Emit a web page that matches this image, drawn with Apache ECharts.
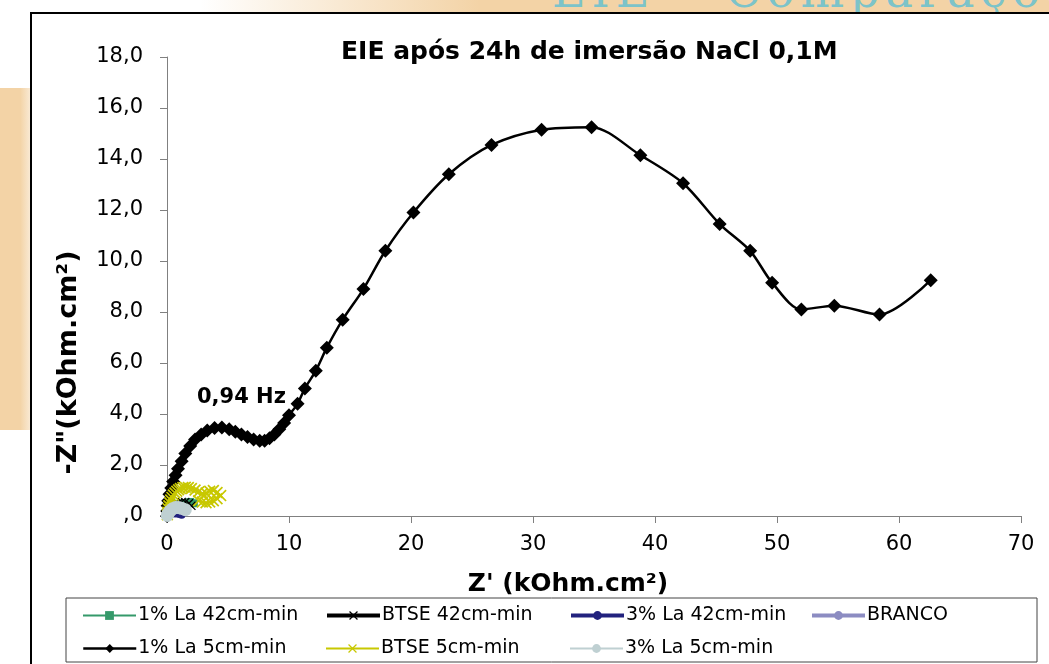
<!DOCTYPE html>
<html>
<head>
<meta charset="utf-8">
<script src="https://cdn.jsdelivr.net/npm/echarts@6/dist/echarts.min.js"></script>
<style>
    html, body { margin: 0; padding: 0; background: #fff; overflow: hidden; }
    #deco_top { position: absolute; left: 0; top: 0; width: 1049px; height: 14px;
        background: linear-gradient(to right, rgba(243,213,168,0) 200px, #f3d3a6 480px, #f3d3a6 1049px); }
    #deco_title { position: absolute; left: 552px; top: -36px; font-family: "DejaVu Serif", serif;
        font-size: 46px; color: #7cc3c9; white-space: nowrap; letter-spacing: 6px; }
    #deco_left { position: absolute; left: 0; top: 88px; width: 32px; height: 342px;
        background: linear-gradient(to right, #f3d3a6 0px, #f3d3a6 20px, rgba(243,211,166,0.4) 32px); }
    #frame { position: absolute; left: 30px; top: 12px; width: 1040px; height: 670px;
        border-left: 2px solid #000; border-top: 2px solid #000; background: #fff; }
    #echarts { position: absolute; left: 0; top: 0; width: 1049px; height: 664px; }
</style>
</head>
<body>
<div id="deco_top"></div>
<div id="deco_title">EIE – Comparações</div>
<div id="deco_left"></div>
<div id="frame"></div>
<div id="echarts"></div>
<script>
// dados (Z' e -Z'' em kOhm.cm2)
var la1_5_x = [0.0, 0.02, 0.05, 0.1, 0.2, 0.35, 0.5, 0.7, 0.9, 1.2, 1.5, 1.9, 2.3, 2.8, 3.3, 3.9, 4.5, 5.1, 5.6, 6.1, 6.6, 7.1,
    7.6, 8.0, 8.4, 8.8, 9.2, 9.6, 10.0, 10.7, 11.3, 12.2, 13.1, 14.4, 16.1, 17.9, 20.2, 23.1, 26.6, 30.7, 34.8, 38.8, 42.3,
    45.3, 47.8, 49.6, 52.0, 54.7, 58.4, 62.6];
var la1_5_y = [0.0, 0.2, 0.4, 0.6, 0.85, 1.1, 1.35, 1.6, 1.85, 2.15, 2.45, 2.75, 3.0, 3.2, 3.35, 3.45, 3.47, 3.4, 3.3, 3.2, 3.1, 3.0,
    2.95, 2.95, 3.05, 3.2, 3.4, 3.65, 3.95, 4.4, 5.0, 5.7, 6.6, 7.7, 8.9, 10.4, 11.9, 13.4, 14.55, 15.15, 15.25, 14.15, 13.05,
    11.45, 10.4, 9.15, 8.1, 8.25, 7.9, 9.25];

var btse5_x = [0.03, 0.06, 0.1, 0.15, 0.22, 0.3, 0.4, 0.52, 0.65, 0.8, 0.95, 1.1, 1.3, 1.5, 1.75, 2.0, 2.3, 2.6, 2.9, 3.2, 3.5,
    3.8, 4.1, 4.4, 4.1, 3.8, 3.5, 3.2, 2.9, 2.6];
var btse5_y = [0.05, 0.15, 0.28, 0.4, 0.52, 0.63, 0.73, 0.82, 0.9, 0.97, 1.03, 1.08, 1.12, 1.13, 1.12, 1.08, 1.02, 0.95, 0.88, 0.9,
    0.97, 1.0, 0.92, 0.8, 0.68, 0.6, 0.55, 0.52, 0.55, 0.6];

var btse42_x = [0.05, 0.15, 0.35, 0.6, 0.9, 1.2, 1.5, 1.8, 2.0];
var btse42_y = [0.05, 0.2, 0.35, 0.45, 0.5, 0.55, 0.55, 0.5, 0.4];

var la1_42_x = [0.05, 0.2, 0.5, 0.9, 1.4, 1.9, 2.2];
var la1_42_y = [0.05, 0.2, 0.35, 0.45, 0.5, 0.55, 0.5];

var la3_42_x = [0.02, 0.1, 0.25, 0.45, 0.7, 1.0, 1.2];
var la3_42_y = [0.02, 0.05, 0.08, 0.1, 0.1, 0.08, 0.05];

var branco_x = [0.01, 0.05, 0.1, 0.2, 0.3];
var branco_y = [0.01, 0.03, 0.05, 0.05, 0.04];

var la3_5_x = [0.02, 0.1, 0.25, 0.45, 0.7, 0.95, 1.2, 1.5];
var la3_5_y = [0.02, 0.1, 0.2, 0.28, 0.33, 0.33, 0.3, 0.25];

var x_ticks = [0, 10, 20, 30, 40, 50, 60, 70];
var y_ticks = [0, 2, 4, 6, 8, 10, 12, 14, 16, 18];

var nomes = ['1% La 42cm-min', 'BTSE 42cm-min', '3% La 42cm-min', 'BRANCO',
    '1% La 5cm-min', 'BTSE 5cm-min', '3% La 5cm-min'];

// junta x e y em pares
function pares(xs, ys) {
    var out = [];
    for (let i = 0; i < xs.length; i++) {
        out.push([xs[i], ys[i]]);
    }
    return out;
}

var simboloX = 'path://M0,1L1,0L5,4L9,0L10,1L6,5L10,9L9,10L5,6L1,10L0,9L4,5Z';
var fonte = '"DejaVu Sans", sans-serif';

function legenda(nome, left, top) {
    return {
        data: [nome],
        left: left,
        top: top,
        itemWidth: 53,
        itemHeight: 11,
        itemGap: 0,
        lineStyle: { width: 'inherit' },
        textStyle: { fontFamily: fonte, fontSize: 19, color: '#000', padding: [0, 0, 0, -3] },
        selectedMode: false
    };
}

var chart = echarts.init(document.getElementById('echarts'));
var option = {
    animation: false,
    textStyle: { fontFamily: fonte },
    title: {
        text: 'EIE após 24h de imersão NaCl 0,1M',
        left: 336,
        top: 35,
        textStyle: { fontFamily: fonte, fontSize: 25, fontWeight: 'bold', color: '#000' }
    },
    grid: { left: 167, right: 28, top: 57, bottom: 148 },
    legend: [
        legenda(nomes[0], 77, 601),
        legenda(nomes[1], 320, 601),
        legenda(nomes[2], 564, 601),
        legenda(nomes[3], 805, 601),
        legenda(nomes[4], 77, 634),
        legenda(nomes[5], 320, 634),
        legenda(nomes[6], 564, 634)
    ],
    graphic: [{
        type: 'rect',
        shape: { x: 66, y: 598, width: 971, height: 64 },
        style: { fill: 'none', stroke: '#444', lineWidth: 1 }
    }],
    xAxis: {
        type: 'value',
        min: x_ticks[0],
        max: x_ticks[x_ticks.length - 1],
        interval: 10,
        name: "Z' (kOhm.cm²)",
        nameLocation: 'middle',
        nameGap: 56,
        nameTextStyle: { fontFamily: fonte, fontSize: 25, fontWeight: 'bold', color: '#000', padding: [0, 52, 0, 0] },
        axisLine: { onZero: false, lineStyle: { color: '#808080', width: 1 } },
        axisTick: { show: true, length: 7, lineStyle: { color: '#808080' } },
        axisLabel: { fontFamily: fonte, fontSize: 21, color: '#000', margin: 18 },
        splitLine: { show: false }
    },
    yAxis: {
        type: 'value',
        min: y_ticks[0],
        max: y_ticks[y_ticks.length - 1],
        interval: 2,
        name: '-Z"(kOhm.cm²)',
        nameLocation: 'middle',
        nameGap: 85,
        nameRotate: 90,
        nameTextStyle: { fontFamily: fonte, fontSize: 27, fontWeight: 'bold', color: '#000', padding: [0, 152, 0, 0] },
        axisLine: { show: true, lineStyle: { color: '#808080', width: 1 } },
        axisTick: { show: true, length: 7, lineStyle: { color: '#808080' } },
        axisLabel: {
            fontFamily: fonte, fontSize: 21, color: '#000', margin: 24,
            formatter: function (v) {
                return v === 0 ? ',0' : v.toFixed(1).replace('.', ',');
            }
        },
        splitLine: { show: false }
    },
    series: [
        {
            name: nomes[0], type: 'line', data: pares(la1_42_x, la1_42_y), smooth: 0.3,
            symbol: 'rect', symbolSize: 8,
            lineStyle: { color: '#35996a', width: 2 }, itemStyle: { color: '#35996a' }, z: 3
        },
        {
            name: nomes[1], type: 'line', data: pares(btse42_x, btse42_y), smooth: 0.3,
            symbol: simboloX, symbolSize: 9,
            lineStyle: { color: '#000', width: 4 }, itemStyle: { color: '#000' }, z: 3
        },
        {
            name: nomes[2], type: 'line', data: pares(la3_42_x, la3_42_y), smooth: 0.3,
            symbol: 'circle', symbolSize: 8,
            lineStyle: { color: '#22227e', width: 4 }, itemStyle: { color: '#22227e' }, z: 3
        },
        {
            name: nomes[3], type: 'line', data: pares(branco_x, branco_y), smooth: 0.3,
            symbol: 'none',
            lineStyle: { color: '#8c8cc2', width: 4 }, itemStyle: { color: '#8c8cc2' }, z: 3
        },
        {
            name: nomes[4], type: 'line', data: pares(la1_5_x, la1_5_y), smooth: 0.3,
            symbol: 'diamond', symbolSize: 14,
            lineStyle: { color: '#000', width: 2.5 }, itemStyle: { color: '#000' }, z: 2,
            markPoint: {
                symbol: 'rect',
                symbolSize: 1,
                itemStyle: { color: 'rgba(0,0,0,0)' },
                data: [{ coord: [6.1, 4.65], value: '0,94 Hz' }],
                label: {
                    show: true, position: 'inside', formatter: '0,94 Hz',
                    fontFamily: fonte, fontSize: 21, fontWeight: 'bold', color: '#000'
                }
            }
        },
        {
            name: nomes[5], type: 'line', data: pares(btse5_x, btse5_y), smooth: 0.3,
            symbol: simboloX, symbolSize: 12,
            lineStyle: { color: '#c8c800', width: 2 }, itemStyle: { color: '#c8c800' }, z: 3
        },
        {
            name: nomes[6], type: 'line', data: pares(la3_5_x, la3_5_y), smooth: 0.3,
            symbol: 'circle', symbolSize: 13,
            lineStyle: { color: '#bfd0d2', width: 2 }, itemStyle: { color: '#bfd0d2' }, z: 4
        }
    ]
};
chart.setOption(option);
</script>
</body>
</html>
